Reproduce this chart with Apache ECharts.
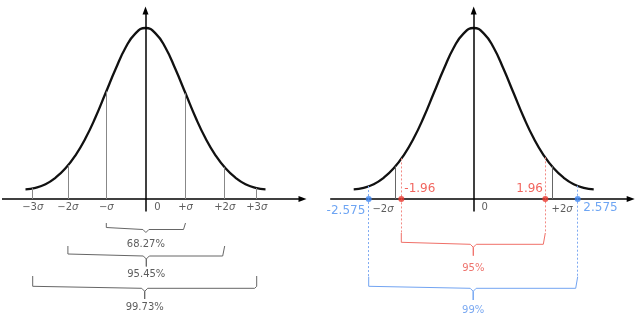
<!DOCTYPE html>
<html><head><meta charset="utf-8">
<script src="https://cdn.jsdelivr.net/npm/echarts@6/dist/echarts.min.js"></script>
<style>html,body{margin:0;padding:0;background:#fff}#c{width:644px;height:325px}</style>
</head><body><div id="c"></div>
<script>
// ---- data (x in sigma units, y = density) ----
const curveX = [-3,-2.75,-2.5,-2.25,-2,-1.75,-1.5,-1.25,-1,-0.75,-0.5,-0.25,0,0.25,0.5,0.75,1,1.25,1.5,1.75,2,2.25,2.5,2.75,3];
const curveY = [0.0226,0.0261,0.0343,0.0495,0.0716,0.102,0.1416,0.1906,0.2466,0.3026,0.3528,0.3866,0.399,0.3866,0.3528,0.3026,0.2466,0.1906,0.1416,0.102,0.0716,0.0495,0.0343,0.0261,0.0226];

const leftTickLabels = ['−3σ','−2σ','−σ','+σ','+2σ','+3σ'];
const leftTickPos    = [-2.82,-1.94,-0.98,1.0,1.98,2.78];
const leftBraceLabels = ['68.27%','95.45%','99.73%'];
const leftBraceFrom = [-0.98,-1.94,-2.82];
const leftBraceTo   = [1.0,1.98,2.78];

const rightTickLabels = ['−2σ','+2σ'];
const rightTickPos    = [-1.96,1.96];
const z95Labels = ['-1.96','1.96'];
const z95Pos    = [-1.81,1.79];
const z99Labels = ['-2.575','2.575'];
const z99Pos    = [-2.625,2.6];
const rightBraceLabels = ['95%','99%'];

// ---- layout ----
const PX = 40, PY = 171/0.399, AXIS = 199, GW = 320, H = 325;
const panels = [{left:1.5, center:145.5},{left:322.5, center:473.7}];
const y = p => (AXIS - p)/PY;
const dx = p => p/PX;
const FONT = 'DejaVu Sans';
const RED='#ee3f36', BLUE='#4a8ef0';

function curveAt(x){
  for(let i=0;i<curveX.length-1;i++){
    if(x>=curveX[i] && x<=curveX[i+1]){
      const t=(x-curveX[i])/(curveX[i+1]-curveX[i]);
      return curveY[i]+t*(curveY[i+1]-curveY[i]);
    }
  }
  return 0;
}

const series = [];
function add(s, idx){ s.xAxisIndex=idx; s.yAxisIndex=idx; s.animation=false; s.silent=true; series.push(s); }

function segs(list){ return list.map(l=>[{coord:[l[0],l[1]]},{coord:[l[2],l[3]], lineStyle:l[4]}]); }

function brace(idx,a,b,top,Hh,tip,color){
  const c=(a+b)/2;
  const pts=[[a,y(top)],[a,y(Hh-2)],[a+dx(0.7),y(Hh-0.6)],[a+dx(2),y(Hh)],
    [c-dx(3),y(Hh)],[c-dx(1),y(Hh+1.2)],[c,y(Hh+3)],[c,y(tip)],[c,y(Hh+3)],[c+dx(1),y(Hh+1.2)],[c+dx(3),y(Hh)],
    [b-dx(2),y(Hh)],[b-dx(0.7),y(Hh-0.6)],[b,y(Hh-2)],[b,y(top)]];
  add({type:'line',data:pts,symbol:'none',z:3,lineStyle:{color:color,width:1}},idx);
}

function labels(idx,items,z){
  add({type:'scatter',symbolSize:1,z:z||6,itemStyle:{color:'rgba(0,0,0,0)'},
    data:items.map(it=>({value:[it.x,it.y],label:Object.assign({show:true,position:'inside',align:'center',verticalAlign:'middle',
      fontFamily:FONT,fontSize:10,color:'#333',formatter:it.text},it.style||{})}))},idx);
}

const tickRich = {n:{fontFamily:FONT,fontSize:10,color:'#333'},s:{fontFamily:FONT,fontSize:10,color:'#333',fontStyle:'italic'}};
const tickFmt = t => '{n|'+t.replace('σ','')+'}{s|σ}';

panels.forEach((p,idx)=>{
  add({type:'line',data:curveX.map((x,i)=>[x,curveY[i]]),smooth:0.5,symbol:'none',z:4,
    lineStyle:{color:'#111',width:2.3},
    markLine:{silent:true,symbol:['none','triangle'],symbolSize:[6,8],label:{show:false},
      lineStyle:{color:'#000',width:1.5,type:'solid'},
      data:segs([[dx(-143.5),0,dx(157),0],[0,y(211.5),0,y(10.5)]])}},idx);
});

// left panel vertical lines
add({type:'line',data:[],markLine:{silent:true,symbol:['none','none'],label:{show:false},
  lineStyle:{color:'#888',width:1,type:'solid'},
  data:segs(leftTickPos.map(x=>[x,0,x,curveAt(x)]))}},0);
labels(0, leftTickPos.map((x,i)=>({x:x,y:y(207.7),text:tickFmt(leftTickLabels[i]),style:{rich:tickRich}}))
  .concat([{x:dx(12),y:y(207.7),text:'0'}]));
const lb=[[223,229.5,234,244],[246,256,266.5,274],[276,288.3,299,307.3]];
leftBraceLabels.forEach((t,i)=>{
  brace(0,leftBraceFrom[i],leftBraceTo[i],lb[i][0],lb[i][1],lb[i][2],'#666');
});
labels(0, leftBraceLabels.map((t,i)=>({x:(leftBraceFrom[i]+leftBraceTo[i])/2,y:y(lb[i][3]),text:t})));

// right panel
add({type:'line',data:[],markLine:{silent:true,symbol:['none','none'],label:{show:false},
  lineStyle:{color:'#666',width:1,type:'solid'},
  data:segs(rightTickPos.map(x=>[x,0,x,curveAt(x)]))}},1);
add({type:'line',data:[],markLine:{silent:true,symbol:['none','none'],label:{show:false},
  lineStyle:{width:1,type:[2,2]},
  data:segs(z95Pos.map(x=>[x,curveAt(x),x,y(233),{color:'#f28a84',width:1,type:[2,2]}])
    .concat(z99Pos.map(x=>[x,curveAt(x),x,y(276.7),{color:'#7eaaf2',width:1,type:[2,2]}])))}},1);
brace(1,z95Pos[0],z95Pos[1],233,244.3,255.7,'#f07068');
brace(1,z99Pos[0],z99Pos[1],276.7,288.3,300,'#72a4f2');
add({type:'scatter',symbol:'circle',symbolSize:6,z:7,
  data:z95Pos.map(x=>({value:[x,0],itemStyle:{color:'#ea3a30'}})).concat(z99Pos.map(x=>({value:[x,0],itemStyle:{color:'#3f86f0'}})))},1);
labels(1,[
  {x:rightTickPos[0]+dx(-12.3),y:y(209),text:tickFmt(rightTickLabels[0]),style:{rich:tickRich}},
  {x:rightTickPos[1]+dx(10),y:y(209),text:tickFmt(rightTickLabels[1]),style:{rich:tickRich}},
  {x:dx(11),y:y(207.7),text:'0'},
  {x:z95Pos[0]+dx(3),y:y(189.3),text:z95Labels[0],style:{align:'left',fontSize:12,color:RED}},
  {x:z95Pos[1]+dx(-2.3),y:y(189.3),text:z95Labels[1],style:{align:'right',fontSize:12,color:RED}},
  {x:z99Pos[0]+dx(-3.4),y:y(211),text:z99Labels[0],style:{align:'right',fontSize:12,color:BLUE}},
  {x:z99Pos[1]+dx(5.6),y:y(207.5),text:z99Labels[1],style:{align:'left',fontSize:12,color:BLUE}},
  {x:(z95Pos[0]+z95Pos[1])/2,y:y(268.3),text:rightBraceLabels[0],style:{color:'#ea5048'}},
  {x:(z99Pos[0]+z99Pos[1])/2,y:y(310.7),text:rightBraceLabels[1],style:{color:'#5a94ee'}}
]);

const chart = echarts.init(document.getElementById('c'),null,{renderer:'canvas'});
chart.setOption({
  animation:false,
  backgroundColor:'#fff',
  grid:panels.map(p=>({left:p.left,top:0,width:GW,height:H,containLabel:false})),
  xAxis:panels.map((p,i)=>({type:'value',gridIndex:i,show:false,min:(p.left-p.center)/PX,max:(p.left+GW-p.center)/PX,splitLine:{show:false}})),
  yAxis:panels.map((p,i)=>({type:'value',gridIndex:i,show:false,min:-(H-AXIS)/PY,max:AXIS/PY,splitLine:{show:false}})),
  series:series
});
</script></body></html>
